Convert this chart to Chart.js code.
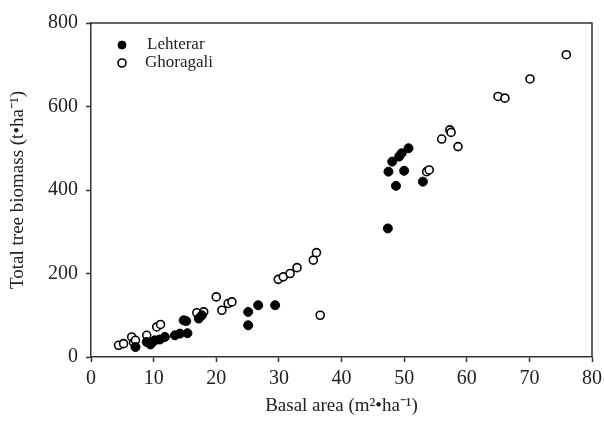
<!DOCTYPE html>
<html lang="en">
<head>
  <meta charset="UTF-8" />
  <title>Biomass vs basal area</title>
  <script src="https://cdn.jsdelivr.net/npm/chart.js"></script>
  <style>
    html, body { margin: 0; padding: 0; background: #fff; }
    #wrap { width: 604px; height: 425px; }
  </style>
</head>
<body>
  <div id="wrap"><canvas id="chart"></canvas></div>

  <script>
    // Lehterar (filled markers)
    const lehterarX = [7.1, 8.9, 9.5, 9.7, 10.2, 11, 11.8, 13.4, 14.2, 14.8, 15.2, 15.4, 17.2, 17.7,
                       25.1, 25.1, 26.7, 29.4, 47.4, 47.5, 48.1, 48.7, 49.2, 49.6, 50.7, 50, 53];
    const lehterarY = [24, 36, 30, 34, 40, 42, 48, 52, 56, 88, 86, 57, 92, 100,
                       76, 108, 124, 124, 308, 444, 468, 410, 480, 488, 500, 446, 420];

    // Ghoragali (open markers)
    const ghoragaliX = [4.4, 5.2, 6.5, 6.8, 7.1, 8.9, 10.5, 11.1, 16.9, 18, 20, 20.9, 21.9, 22.5,
                        29.9, 30.7, 31.8, 32.9, 35.5, 36, 36.6, 53.6, 54, 56, 57.3, 57.5, 58.6,
                        65, 66.1, 70.1, 75.9];
    const ghoragaliY = [28, 32, 48, 35, 40, 52, 72, 78, 106, 108, 144, 112, 128, 132,
                        186, 192, 200, 214, 232, 250, 100, 444, 448, 522, 544, 538, 504,
                        624, 620, 666, 724];

    const xTicks = [0, 10, 20, 30, 40, 50, 60, 70, 80];
    const yTicks = [0, 200, 400, 600, 800];

    const toPoints = (xs, ys) => xs.map((x, i) => ({ x: x, y: ys[i] }));
    const serif = "'Liberation Serif', 'Times New Roman', serif";

    // top + right frame lines and the legend inside the plot
    const framePlugin = {
      id: 'frame',
      afterDraw(chart) {
        const { ctx, chartArea: a } = chart;
        ctx.save();
        ctx.strokeStyle = '#333';
        ctx.lineWidth = 1.5;
        ctx.beginPath();
        ctx.moveTo(a.left, a.top);
        ctx.lineTo(a.right, a.top);
        ctx.lineTo(a.right, a.bottom);
        ctx.stroke();

        ctx.font = '17px ' + serif;
        ctx.textBaseline = 'middle';
        chart.data.datasets.forEach((ds, i) => {
          const mx = a.left + 31, my = a.top + 22 + i * 18;
          ctx.beginPath();
          ctx.arc(mx, my, 4, 0, Math.PI * 2);
          ctx.fillStyle = ds.backgroundColor;
          ctx.fill();
          ctx.lineWidth = ds.borderWidth;
          ctx.strokeStyle = ds.borderColor;
          ctx.stroke();
          ctx.fillStyle = '#222';
          ctx.fillText(ds.label, a.left + (i === 0 ? 56 : 54), my);
        });
        ctx.restore();
      }
    };

    new Chart(document.getElementById('chart'), {
      type: 'scatter',
      data: {
        datasets: [
          {
            label: 'Lehterar',
            data: toPoints(lehterarX, lehterarY),
            backgroundColor: '#000',
            borderColor: '#000',
            borderWidth: 1,
            pointRadius: 4.5
          },
          {
            label: 'Ghoragali',
            data: toPoints(ghoragaliX, ghoragaliY),
            backgroundColor: '#fff',
            borderColor: '#000',
            borderWidth: 1.6,
            pointRadius: 4
          }
        ]
      },
      options: {
        responsive: true,
        maintainAspectRatio: false,
        animation: false,
        layout: { padding: { left: 0, top: 23, right: 12, bottom: 0 } },
        plugins: {
          legend: { display: false },
          tooltip: { enabled: false }
        },
        scales: {
          x: {
            type: 'linear',
            min: 0, max: 80,
            afterBuildTicks: s => { s.ticks = xTicks.map(v => ({ value: v })); },
            afterFit: s => { s.height = 68; s.paddingLeft = 0; s.paddingRight = 0; },
            grid: { drawOnChartArea: false, tickLength: 5, tickColor: '#333', tickWidth: 1.5 },
            border: { color: '#333', width: 1.5 },
            ticks: { color: '#222', font: { family: serif, size: 20 }, padding: 5, maxRotation: 0 },
            title: {
              display: true,
              text: 'Basal area (m²•ha⁻¹)',
              color: '#222',
              font: { family: serif, size: 19 },
              padding: { top: 0, bottom: 8 }
            }
          },
          y: {
            min: 0, max: 800,
            afterBuildTicks: s => { s.ticks = yTicks.map(v => ({ value: v })); },
            afterFit: s => { s.width = 91; s.paddingTop = 0; s.paddingBottom = 0; },
            grid: { drawOnChartArea: false, tickLength: 5, tickColor: '#333', tickWidth: 1.5 },
            border: { color: '#333', width: 1.5 },
            ticks: { color: '#222', font: { family: serif, size: 20 }, padding: 8 },
            title: {
              display: true,
              text: 'Total tree biomass (t•ha⁻¹)',
              color: '#222',
              font: { family: serif, size: 19 },
              padding: { top: 7, bottom: 0 }
            }
          }
        }
      },
      plugins: [framePlugin]
    });
  </script>
</body>
</html>
